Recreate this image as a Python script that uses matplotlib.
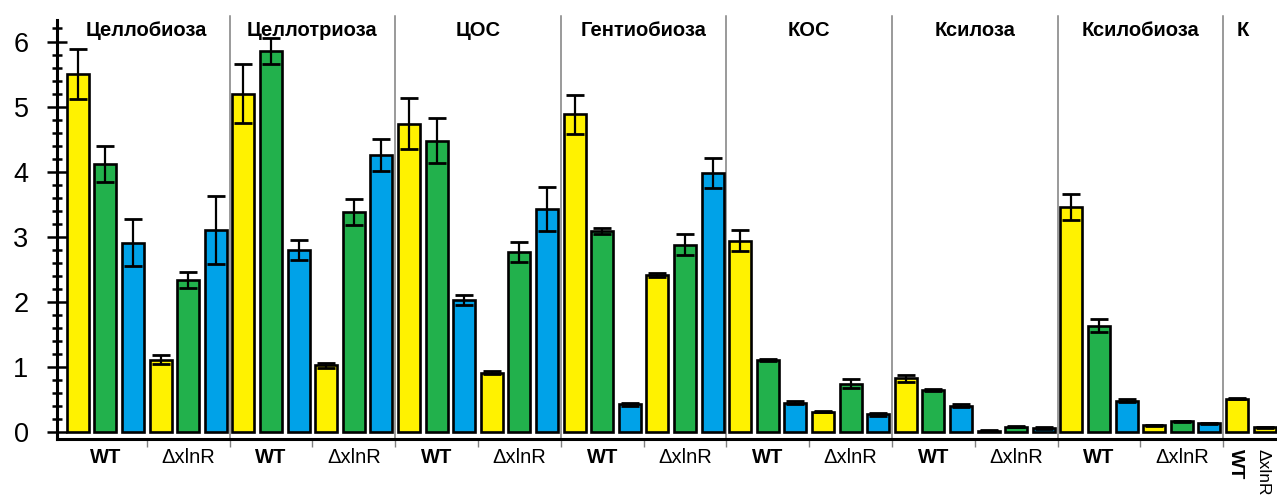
import matplotlib
matplotlib.use('Agg')
import matplotlib.pyplot as plt
import matplotlib.transforms as mtransforms
import numpy as np

plt.rcParams['font.family'] = ['Liberation Sans', 'DejaVu Sans']

# Sections (sugars) and strains
sections = ["Целлобиоза", "Целлотриоза", "ЦОС", "Гентиобиоза", "КОС", "Ксилоза", "Ксилобиоза"]
strains = ["WT", "ΔxlnR"]

# values per group: WT, ΔxlnR for each section in order
yellow = [5.50, 1.12, 5.20, 1.03, 4.74, 0.92, 4.88, 2.42, 2.94, 0.32, 0.83, 0.03, 3.46, 0.11]
yellow_err = [0.38, 0.07, 0.45, 0.04, 0.39, 0.03, 0.30, 0.03, 0.16, 0.01, 0.05, 0.01, 0.20, 0.01]
green = [4.12, 2.34, 5.86, 3.38, 4.48, 2.77, 3.09, 2.88, 1.11, 0.75, 0.65, 0.09, 1.64, 0.17]
green_err = [0.28, 0.13, 0.20, 0.20, 0.35, 0.15, 0.05, 0.16, 0.02, 0.07, 0.02, 0.01, 0.10, 0.01]
blue = [2.91, 3.11, 2.80, 4.26, 2.03, 3.43, 0.43, 3.98, 0.46, 0.28, 0.41, 0.07, 0.49, 0.14]
blue_err = [0.36, 0.52, 0.16, 0.24, 0.08, 0.34, 0.02, 0.23, 0.02, 0.02, 0.02, 0.01, 0.02, 0.01]

# control "К" (only one bar per strain)
control_label = "К"
control_yellow = [0.52, 0.08]
control_err = [0.01, 0.01]

colors = ['#FFF200', '#22B14C', '#00A2E8']

fig = plt.figure(figsize=(12.77, 4.97), dpi=100)
ax = fig.add_axes([57 / 1277, 1 - 439 / 497, 1 - 57 / 1277, (439 - 20) / 497])

n_groups = len(yellow)
group_start = np.arange(n_groups) * 3

err_kw = dict(ecolor='black', elinewidth=1.6, capsize=6.8, capthick=2.0)
bar_kw = dict(width=0.8, edgecolor='black', linewidth=1.9, zorder=3)

for k, (vals, errs) in enumerate([(yellow, yellow_err), (green, green_err), (blue, blue_err)]):
    ax.bar(group_start + k + 0.5, vals, yerr=errs, color=colors[k],
           error_kw=err_kw, **bar_kw)

ctrl_x = np.array([42.5, 43.5])
ax.bar(ctrl_x, control_yellow, yerr=control_err, color=colors[0], error_kw=err_kw, **bar_kw)

ax.set_xlim(-0.254, 43.95)
ax.set_ylim(-0.1, 6.33)

# y axis ticks
ax.set_yticks(range(0, 7))
ax.set_yticks(np.arange(0, 6.3, 0.2), minor=True)
ax.tick_params(axis='y', which='major', direction='inout', length=15, width=1.8,
               labelsize=19.5, pad=13)
ax.tick_params(axis='y', which='minor', direction='inout', length=7.5, width=1.8)

# x axis: small gray ticks between strains, no labels
ax.set_xticks(np.arange(3, 43, 3))
ax.set_xticklabels([])
ax.tick_params(axis='x', which='major', direction='out', length=6, width=1.0, color='#808080')

for side in ['top', 'right']:
    ax.spines[side].set_visible(False)
ax.spines['left'].set_linewidth(2.2)
ax.spines['bottom'].set_linewidth(2.2)

# section separators
for s in range(1, len(sections) + 1):
    ax.axvline(6 * s, ymin=0, ymax=1.01, color='#7f7f7f', linewidth=1.1, zorder=1, clip_on=False)

trans = mtransforms.blended_transform_factory(ax.transData, ax.transAxes)

# section titles
for s, name in enumerate(sections):
    ax.text(6 * s + 3, 0.975, name, transform=trans, ha='center', va='center',
            fontsize=14.5, fontweight='bold')
ax.text(42.7, 0.975, control_label, transform=trans, ha='center', va='center',
        fontsize=14.5, fontweight='bold')

# strain labels under the axis
for g in range(n_groups):
    strain = strains[g % 2]
    ax.text(3 * g + 1.5, -0.045, strain, transform=trans, ha='center', va='center',
            fontsize=14.5, fontweight='bold' if strain == 'WT' else 'normal')
# rotated labels for the control section
ax.text(ctrl_x[0] - 0.05, -0.025, strains[0], transform=trans, ha='center', va='top',
        rotation=-90, fontsize=14, fontweight='bold')
ax.text(ctrl_x[1] - 0.05, -0.025, strains[1], transform=trans, ha='center', va='top',
        rotation=-90, fontsize=12.5)

fig.savefig('out.png', dpi=100)
